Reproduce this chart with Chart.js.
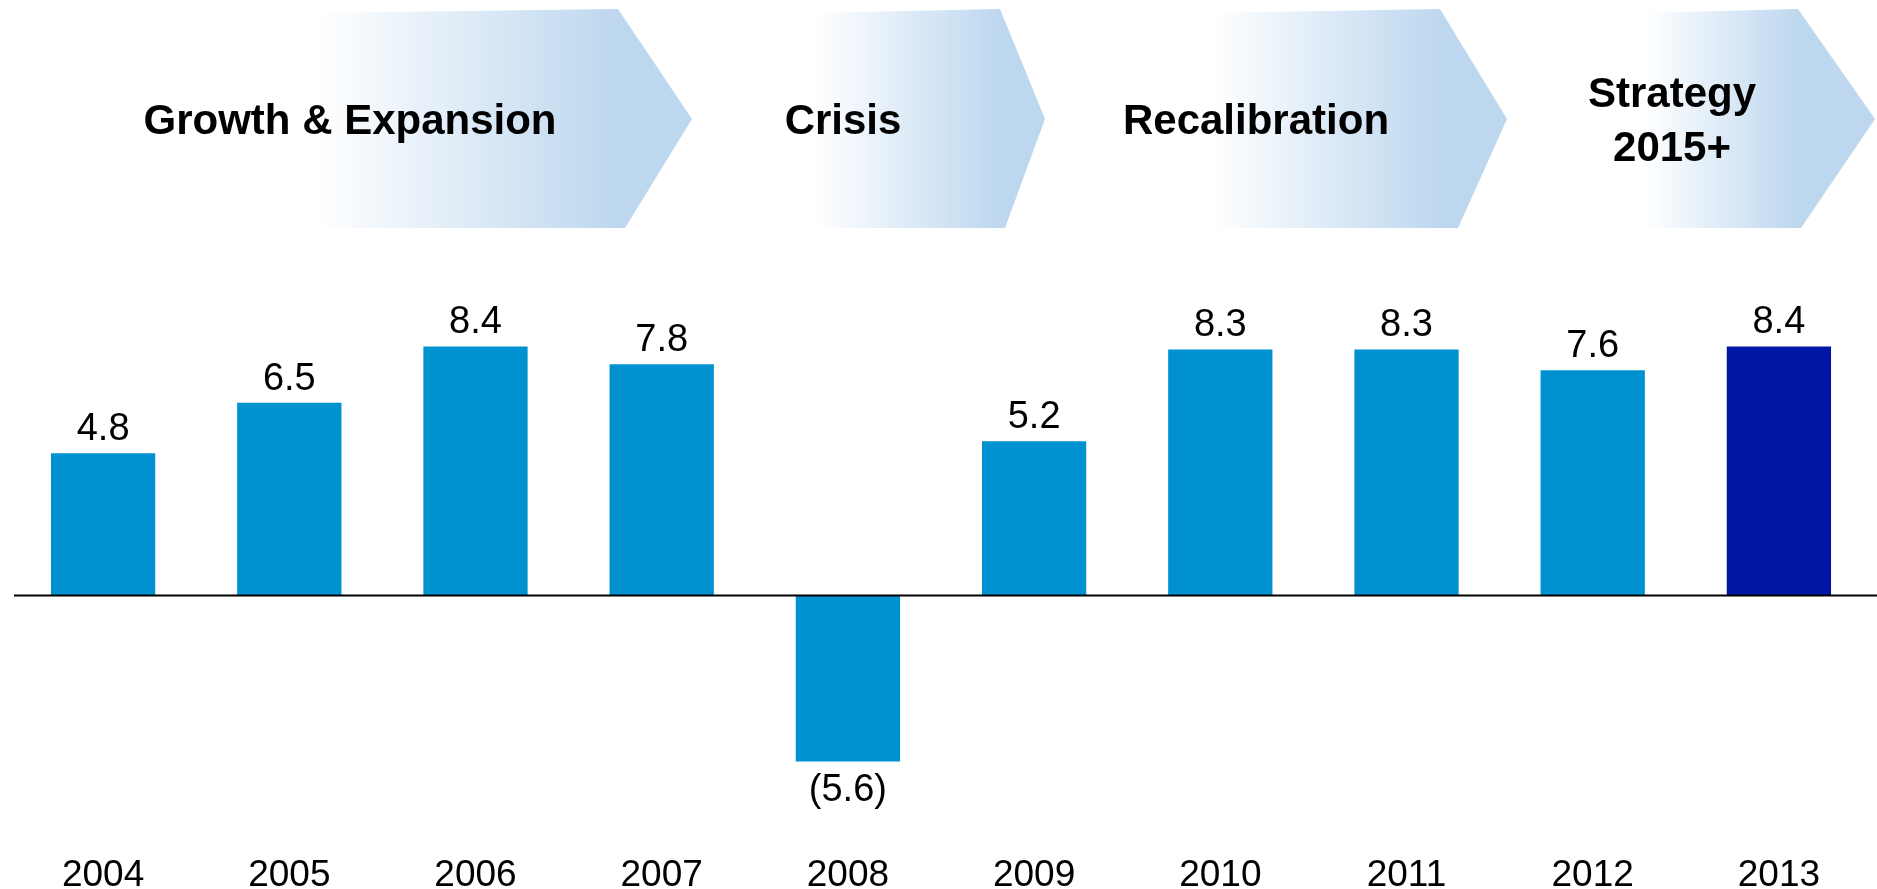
<!DOCTYPE html>
<html>
<head>
<meta charset="utf-8">
<script src="https://cdn.jsdelivr.net/npm/chart.js@4"></script>
<style>
  html, body { margin: 0; padding: 0; background: #fff; }
  #wrap { width: 1877px; height: 889px; }
</style>
</head>
<body>
<div id="wrap"><canvas id="graph"></canvas></div>
<script>
const years = ['2004', '2005', '2006', '2007', '2008', '2009', '2010', '2011', '2012', '2013'];
const values = [4.8, 6.5, 8.4, 7.8, -5.6, 5.2, 8.3, 8.3, 7.6, 8.4];
const phaseNames = [['Growth & Expansion'], ['Crisis'], ['Recalibration'], ['Strategy', '2015+']];

const FONT = '"Liberation Sans", Arial, sans-serif';
const barBlue = '#0092D0';
const barDark = '#0017A6';

// chevron shapes behind the chart: fade start, top right, tip, bottom right, label centre x
const chevrons = [
  { fade: 317, top: 618, tip: 692, bottom: 625, cx: 350 },
  { fade: 815, top: 1000, tip: 1045, bottom: 1005, cx: 843 },
  { fade: 1212, top: 1440, tip: 1507, bottom: 1458, cx: 1256 },
  { fade: 1645, top: 1798, tip: 1875, bottom: 1801, cx: 1672 },
];

const phasePlugin = {
  id: 'phases',
  beforeDraw(chart) {
    const ctx = chart.ctx;
    ctx.save();
    chevrons.forEach((c, i) => {
      const grad = ctx.createLinearGradient(c.fade, 0, c.top, 0);
      grad.addColorStop(0, 'rgba(255,255,255,1)');
      grad.addColorStop(1, '#BDD7EF');
      ctx.fillStyle = grad;
      ctx.beginPath();
      ctx.moveTo(c.fade, 13);
      ctx.lineTo(c.top, 9);
      ctx.lineTo(c.tip, 119);
      ctx.lineTo(c.bottom, 228);
      ctx.lineTo(c.fade, 228);
      ctx.closePath();
      ctx.fill();

      const lines = phaseNames[i];
      ctx.fillStyle = '#000';
      ctx.font = 'bold 42px ' + FONT;
      ctx.textAlign = 'center';
      ctx.textBaseline = 'middle';
      const lh = 54;
      const y0 = 122 - (lines.length - 1) * lh / 2;
      lines.forEach((t, j) => ctx.fillText(t, c.cx, y0 + j * lh));
    });
    ctx.restore();
  },
};

const valuePlugin = {
  id: 'values',
  afterDatasetsDraw(chart) {
    const ctx = chart.ctx;
    const yScale = chart.scales.y;
    const zero = yScale.getPixelForValue(0);
    ctx.save();
    // baseline
    ctx.strokeStyle = '#000';
    ctx.lineWidth = 2;
    ctx.beginPath();
    ctx.moveTo(chart.chartArea.left + 4, zero);
    ctx.lineTo(chart.width, zero);
    ctx.stroke();

    ctx.fillStyle = '#000';
    ctx.font = '38px ' + FONT;
    ctx.textAlign = 'center';
    ctx.textBaseline = 'alphabetic';
    chart.getDatasetMeta(0).data.forEach((bar, i) => {
      const v = values[i];
      if (v >= 0) {
        ctx.fillText(v.toFixed(1), bar.x, bar.y - 13);
      } else {
        ctx.fillText('(' + Math.abs(v).toFixed(1) + ')', bar.x, bar.y + 39);
      }
    });
    ctx.restore();
  },
};

new Chart(document.getElementById('graph'), {
  type: 'bar',
  data: {
    labels: years,
    datasets: [
      {
        data: values,
        backgroundColor: years.map((y, i) => (i === years.length - 1 ? barDark : barBlue)),
        borderWidth: 0,
        barPercentage: 0.56,
        categoryPercentage: 1,
      },
    ],
  },
  options: {
    responsive: true,
    maintainAspectRatio: false,
    animation: false,
    layout: { padding: { left: 10, right: 5, top: 235, bottom: -16 } },
    plugins: {
      legend: { display: false },
      tooltip: { enabled: false },
    },
    scales: {
      x: {
        grid: { display: false },
        border: { display: false },
        ticks: {
          color: '#000',
          padding: 11,
          font: { family: FONT, size: 37, lineHeight: 1 },
        },
      },
      y: {
        display: false,
        min: -8.18,
        max: 12.16,
      },
    },
  },
  plugins: [phasePlugin, valuePlugin],
});
</script>
</body>
</html>
